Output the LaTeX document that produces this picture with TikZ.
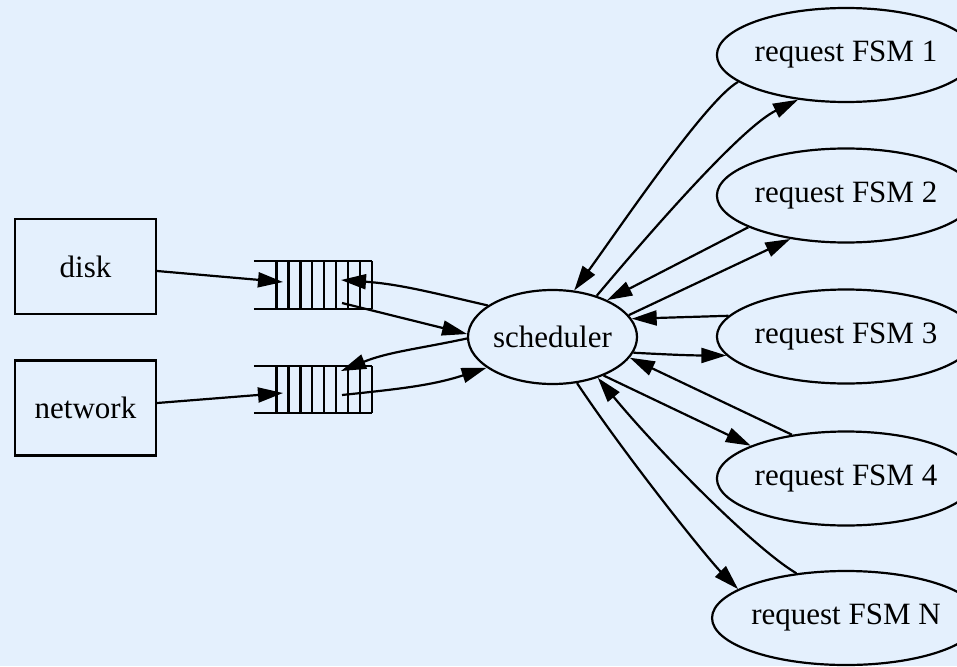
\documentclass[tikz,border=0pt]{standalone}
\usepackage{fontspec}
\setmainfont{Liberation Serif}
\usetikzlibrary{shapes.geometric,arrows.meta}
\definecolor{bgblue}{RGB}{228,240,253}
\tikzset{
  every node/.style={font=\fontsize{31}{36}\selectfont},
  src/.style={draw, line width=2.2pt, fill=bgblue, minimum width=141pt, minimum height=95pt, inner sep=0pt},
  proc/.style={ellipse, draw, line width=2.2pt, fill=bgblue, inner sep=0pt},
  fsm/.style={proc, minimum width=222pt, minimum height=94pt},
  conn/.style={line width=2.2pt, -{Triangle[length=25pt,width=15pt]}},
  qline/.style={line width=2.2pt},
}
\begin{document}
\begin{tikzpicture}[x=1pt,y=-1pt]
  \fill[bgblue] (0,0) rectangle (957,666);
  \useasboundingbox (0,0) rectangle (957,666);

  % sources
  \node[src] (disk) at (85.5,266.5) {disk};
  \node[src] (net) at (85.5,408) {network};

  % queues
  \node[minimum width=118pt, minimum height=48pt, inner sep=0pt] (q1) at (313,285) {};
  \node[minimum width=118pt, minimum height=47pt, inner sep=0pt] (q2) at (313,389.5) {};
  \foreach \q in {q1,q2}{
    \draw[qline] (\q.north west) -- (\q.north east);
    \draw[qline] (\q.south west) -- (\q.south east);
    \foreach \k in {0,...,8}{
      \draw[qline] ([xshift={22.7+11.95*\k}]\q.north west) -- ([xshift={22.7+11.95*\k}]\q.south west);
    }
  }
  \coordinate (q1in) at (283,282);
  \coordinate (q1back) at (341,280);
  \coordinate (q1out) at (342,303);
  \coordinate (q2in) at (283,393);
  \coordinate (q2back) at (341,371);
  \coordinate (q2out) at (342,395);

  % scheduler and request machines
  \node[proc, minimum width=169pt, minimum height=94pt] (sch) at (552.5,337) {scheduler};
  \node[fsm] (f1) at (846,55) {request FSM 1};
  \node[fsm] (f2) at (846,195.5) {request FSM 2};
  \node[fsm] (f3) at (846,336.5) {request FSM 3};
  \node[fsm] (f4) at (846,478.5) {request FSM 4};
  \node[fsm] (fn) at (846,618) {request FSM N};

  % inputs into queues
  \draw[conn] (disk.east |- 0,271) -- (q1in);
  \draw[conn] (net.east |- 0,403) -- (q2in);

  % queues <-> scheduler
  \draw[conn] (q1out) -- (sch.178.6);
  \draw[conn] (sch.154.5) to[out=167,in=-4] (q1back);
  \draw[conn] (sch.181.4) to[out=192,in=22] (q2back);
  \draw[conn] (q2out) to[out=6,in=198] (sch.205.8);

  % scheduler <-> request machines
  \draw[conn] (f1.194.6) .. controls +(-32,18) and +(45,-62) .. (sch.65);
  \draw[conn] (sch.43.7) .. controls +(63,-75) and +(-55,27) .. (f1.223);
  \draw[conn] (f2.198.3) -- (sch.34.4);
  \draw[conn] (sch.16.3) -- (f2.218.7);
  \draw[conn] (f3.170) -- (sch.13.9);
  \draw[conn] (sch.-11.5) to[out=-3,in=180] (f3.189);
  \draw[conn] (f4.141.3) -- (sch.-15.6);
  \draw[conn] (sch.-37) -- (f4.161);
  \draw[conn] (fn.138) .. controls +(-42,-25) and +(62,75) .. (sch.-42);
  \draw[conn] (sch.-62) .. controls +(50,75) and +(-30,-30) .. (fn.165.4);
\end{tikzpicture}
\end{document}
